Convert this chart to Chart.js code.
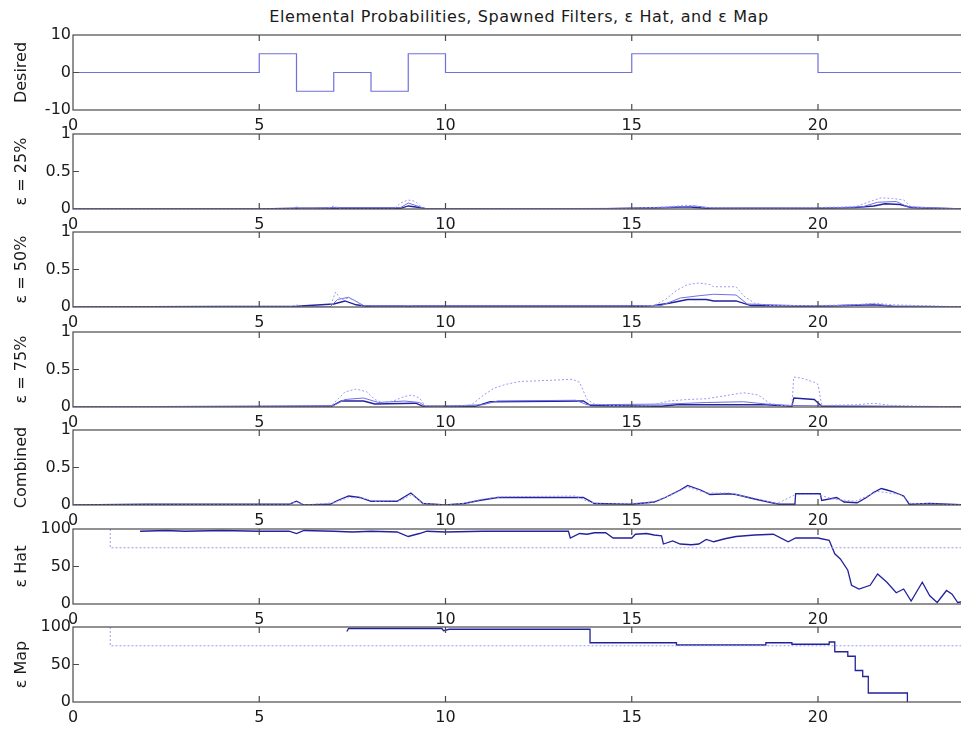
<!DOCTYPE html>
<html lang="en">
<head>
<meta charset="UTF-8">
<title>Elemental Probabilities, Spawned Filters, ε Hat, and ε Map</title>
<script src="https://cdn.jsdelivr.net/npm/chart.js"></script>
<style>
  body { margin: 0; background: #fff; overflow: hidden; font-family: "DejaVu Sans", sans-serif; }
  #wrap { position: relative; width: 961px; height: 731px; overflow: hidden; }
  #title { position: absolute; left: 0; width: 1038px; top: 7px; text-align: center; font-size: 16px; letter-spacing: 0.6px; color: #1a1a1a; }
  canvas { position: absolute; left: 0; }
</style>
</head>
<body>
<div id="wrap">
  <div id="title">Elemental Probabilities, Spawned Filters, ε Hat, and ε Map</div>
</div>

<script>
// ---- data: [time, value] pairs ----
const desired = [[0,0],[5,0],[5,5],[6,5],[6,-5],[7,-5],[7,0],[8,0],[8,-5],[9,-5],[9,5],[10,5],[10,0],[15,0],[15,5],[20,5],[20,0],[24,0]];

const p25Dotted = [[0,0],[5.8,0],[6,0.03],[6.2,0],[6.8,0],[7,0.04],[7.2,0],[8.6,0],[8.8,0.08],[9,0.12],[9.2,0.1],[9.4,0],[14.5,0],[15,0.01],[15.5,0.02],[16,0.03],[16.5,0.05],[17,0.02],[18,0.01],[19,0.01],[20,0.02],[21,0.03],[21.4,0.1],[21.7,0.15],[22,0.14],[22.3,0.12],[22.5,0.03],[23,0.01],[24,0]];
const p25Light  = [[0,0],[5.9,0],[6,0.02],[6.1,0],[7,0.02],[8.8,0.02],[9,0.08],[9.3,0.03],[9.5,0],[15.5,0.01],[16.3,0.03],[16.7,0.04],[17.2,0.01],[20,0.01],[21.2,0.03],[21.6,0.09],[22.1,0.1],[22.4,0.03],[24,0]];
const p25Solid  = [[0,0],[5,0],[6,0.01],[7,0.01],[8.8,0.01],[9,0.04],[9.3,0.02],[9.5,0],[14,0],[15,0.01],[16,0.02],[16.5,0.03],[17,0.01],[20,0.01],[21,0.02],[21.5,0.04],[21.8,0.07],[22.2,0.06],[22.5,0.02],[23,0.01],[24,0]];

const p50Dotted = [[0,0],[5.8,0],[6,0.03],[6.2,0],[6.9,0],[7.05,0.2],[7.2,0.1],[7.4,0.12],[7.6,0.08],[7.8,0],[8.8,0],[9,0.02],[9.3,0],[15,0],[15.6,0.02],[15.9,0.1],[16.2,0.22],[16.5,0.3],[16.8,0.32],[17.1,0.3],[17.2,0.27],[17.5,0.27],[17.8,0.27],[18,0.15],[18.3,0.05],[18.7,0.02],[20,0.02],[21,0.03],[21.5,0.05],[22,0.03],[24,0]];
const p50Light  = [[0,0],[6.9,0],[7.1,0.1],[7.4,0.13],[7.8,0.02],[15.8,0.02],[16.3,0.12],[16.8,0.15],[17.2,0.17],[17.8,0.16],[18.1,0.04],[20,0.01],[21.5,0.04],[22,0.01],[24,0]];
const p50Solid  = [[0,0],[6,0.01],[7,0.04],[7.3,0.08],[7.6,0.03],[8,0],[15,0],[15.6,0.02],[16,0.05],[16.5,0.1],[17,0.1],[17.2,0.08],[17.8,0.08],[18.2,0.02],[20,0.01],[21.5,0.03],[22,0.01],[24,0]];

const p75Dotted = [[0,0],[6.9,0],[7.1,0.1],[7.3,0.2],[7.6,0.24],[7.9,0.2],[8.1,0.1],[8.3,0.06],[8.6,0.08],[8.9,0.14],[9.1,0.16],[9.3,0.12],[9.45,0.02],[9.8,0],[10,0.02],[10.3,0.01],[10.7,0.03],[11,0.15],[11.3,0.25],[11.6,0.3],[12,0.34],[12.5,0.35],[13,0.36],[13.4,0.37],[13.6,0.33],[13.8,0.1],[14,0.04],[14.5,0.02],[15,0.01],[15.5,0.02],[16,0.08],[16.5,0.1],[17,0.11],[17.5,0.15],[18,0.19],[18.4,0.16],[18.7,0.05],[19,0.02],[19.3,0.02],[19.35,0.4],[19.6,0.38],[19.9,0.33],[20,0.3],[20.1,0.02],[21,0.03],[21.5,0.05],[22,0.02],[24,0]];
const p75Light  = [[0,0],[7,0.02],[7.3,0.1],[7.8,0.12],[8.2,0.06],[8.9,0.08],[9.3,0.06],[9.5,0],[11,0.03],[11.4,0.08],[13.5,0.09],[13.8,0.03],[16,0.04],[17,0.06],[18,0.07],[18.6,0.04],[19.3,0.02],[24,0]];
const p75Solid  = [[0,0],[6.9,0],[7.2,0.08],[7.8,0.08],[8.1,0.04],[9.2,0.05],[9.4,0.01],[10.8,0.01],[11.2,0.07],[13.7,0.08],[13.9,0.02],[15.8,0.01],[16.2,0.03],[18.6,0.03],[19.3,0.01],[19.35,0.12],[19.9,0.1],[20.1,0.01],[24,0]];

const combDotted = [[0,0],[5.8,0.01],[6,0.04],[6.2,0],[7,0.03],[7.4,0.1],[7.8,0.09],[8.1,0.05],[8.8,0.06],[9.1,0.14],[9.4,0.02],[10,0],[10.6,0.03],[11,0.08],[11.5,0.11],[13.5,0.12],[13.8,0.05],[14.2,0.01],[15.5,0.03],[16,0.12],[16.5,0.24],[17,0.16],[17.6,0.16],[18.2,0.1],[18.9,0.02],[19.4,0.14],[20,0.14],[20.4,0.08],[21,0.05],[21.6,0.18],[22.2,0.14],[22.5,0.02],[24,0]];
const combSolid  = [[0,0],[2,0.01],[5.8,0.01],[6,0.05],[6.2,0],[6.9,0.01],[7.1,0.06],[7.4,0.12],[7.7,0.1],[8,0.05],[8.7,0.05],[9.07,0.16],[9.4,0.02],[10,0],[10.5,0.02],[10.9,0.06],[11.4,0.1],[13.7,0.1],[14,0.02],[15,0.01],[15.6,0.04],[15.9,0.1],[16.1,0.15],[16.3,0.2],[16.5,0.26],[16.85,0.2],[17.1,0.14],[17.6,0.15],[17.8,0.14],[18.3,0.08],[18.95,0.01],[19.38,0.01],[19.4,0.15],[20.06,0.15],[20.1,0.06],[20.5,0.1],[20.7,0.04],[21.05,0.03],[21.3,0.1],[21.5,0.17],[21.7,0.22],[21.85,0.2],[22,0.18],[22.3,0.12],[22.45,0.01],[23,0.02],[23.5,0.01],[24,0]];

const hatTrue  = [[1,100],[1,75],[24,75]];
const hatEst   = [[1.8,97],[2.5,98],[3,97],[4,98],[5,97],[5.8,97],[6,94],[6.2,98],[7,97],[7.5,96],[8,97],[8.7,96],[9,90],[9.3,94],[9.5,97],[10,96],[11,97],[12,97],[13,97],[13.3,97],[13.35,88],[13.6,94],[13.8,93],[14,95],[14.3,95],[14.5,88],[15,88],[15.1,93],[15.4,94],[15.6,92],[15.8,91],[15.85,80],[16.1,84],[16.3,80],[16.6,79],[16.8,80],[17,86],[17.2,83],[17.5,87],[17.8,90],[18.3,92],[18.8,93],[19.2,83],[19.4,88],[20,88],[20.3,85],[20.45,67],[20.6,60],[20.8,45],[20.9,25],[21.1,20],[21.4,25],[21.6,40],[21.85,29],[22.1,15],[22.3,20],[22.5,4],[22.8,29],[23,11],[23.2,2],[23.45,18],[23.6,13],[23.75,2],[24,4]];

const mapTrue  = [[1,100],[1,75],[24,75]];
const mapEst   = [[7.35,94],[7.4,98],[9.9,98],[9.95,95],[10.1,97],[13.88,97],[13.88,79],[16.2,79],[16.2,76],[18.6,76],[18.6,79],[19.3,79],[19.3,77],[20.3,77],[20.3,80],[20.45,80],[20.45,67],[20.8,67],[20.8,61],[21,61],[21,42],[21.2,42],[21.2,34],[21.35,34],[21.35,12],[22.4,12],[22.4,0]];

// ---- panels ----
const panelTops = [35, 134, 232, 332, 430, 529, 627];
const PAD_TOP = 12, PLOT_H = 75, AXIS_H = 26, W = 967;

const DARK = '#22229c', LIGHT = '#6f6fe6', PALE = '#9a9af2';
const pts = d => d.map(p => ({ x: p[0], y: p[1] }));
const solid  = d => ({ data: pts(d), borderColor: DARK, borderWidth: 1.3 });
const light  = d => ({ data: pts(d), borderColor: LIGHT, borderWidth: 1 });
const dotted = d => ({ data: pts(d), borderColor: PALE, borderWidth: 1, borderDash: [2, 2] });

const panels = [
  { label: 'Desired',  min: -10, max: 10, step: 10, sets: [{ data: pts(desired), borderColor: '#7070dc', borderWidth: 1.2 }] },
  { label: 'ε = 25%',  min: 0, max: 1, step: 0.5, sets: [dotted(p25Dotted), light(p25Light), solid(p25Solid)] },
  { label: 'ε = 50%',  min: 0, max: 1, step: 0.5, sets: [dotted(p50Dotted), light(p50Light), solid(p50Solid)] },
  { label: 'ε = 75%',  min: 0, max: 1, step: 0.5, sets: [dotted(p75Dotted), light(p75Light), solid(p75Solid)] },
  { label: 'Combined', min: 0, max: 1, step: 0.5, sets: [dotted(combDotted), solid(combSolid)] },
  { label: 'ε Hat',    min: 0, max: 100, step: 50, sets: [dotted(hatTrue), solid(hatEst)] },
  { label: 'ε Map',    min: 0, max: 100, step: 50, sets: [dotted(mapTrue), solid(mapEst)] }
];

// MATLAB-like box with inward ticks
const boxTicks = {
  id: 'boxTicks',
  afterDatasetsDraw(chart) {
    const { ctx, chartArea: a, scales: { x, y } } = chart;
    ctx.save();
    ctx.strokeStyle = '#4a4a4a';
    ctx.lineWidth = 1.2;
    ctx.beginPath();
    x.ticks.forEach(t => {
      const px = x.getPixelForValue(t.value);
      if (px <= a.left + 1) return;
      ctx.moveTo(px, a.bottom); ctx.lineTo(px, a.bottom - 6);
      ctx.moveTo(px, a.top); ctx.lineTo(px, a.top + 6);
    });
    y.ticks.forEach(t => {
      const py = y.getPixelForValue(t.value);
      if (py <= a.top + 1 || py >= a.bottom - 1) return;
      ctx.moveTo(a.left, py); ctx.lineTo(a.left + 6, py);
      ctx.moveTo(a.right, py); ctx.lineTo(a.right - 6, py);
    });
    ctx.stroke();
    ctx.strokeRect(a.left, a.top, a.right - a.left, a.bottom - a.top);
    ctx.restore();
  }
};

const tickFont = { family: 'DejaVu Sans', size: 16 };
const wrap = document.getElementById('wrap');

panels.forEach((p, i) => {
  const cv = document.createElement('canvas');
  cv.width = W;
  cv.height = PAD_TOP + PLOT_H + AXIS_H;
  cv.style.top = (panelTops[i] - PAD_TOP) + 'px';
  wrap.appendChild(cv);

  new Chart(cv.getContext('2d'), {
    type: 'line',
    data: {
      datasets: p.sets.map(s => Object.assign({ pointRadius: 0, tension: 0, fill: false }, s))
    },
    options: {
      responsive: false,
      animation: false,
      events: [],
      layout: { padding: { top: PAD_TOP, right: 0, bottom: 0, left: 0 } },
      plugins: { legend: { display: false }, tooltip: { enabled: false } },
      scales: {
        x: {
          type: 'linear', min: 0, max: 24,
          grid: { display: false, drawTicks: false },
          border: { display: false },
          ticks: { stepSize: 5, includeBounds: false, padding: 6, font: tickFont, color: '#1a1a1a', maxRotation: 0, autoSkip: false },
          afterFit: s => { s.height = AXIS_H; }
        },
        y: {
          min: p.min, max: p.max,
          grid: { display: false, drawTicks: false },
          border: { display: false },
          ticks: { stepSize: p.step, padding: 2, font: tickFont, color: '#1a1a1a', callback: v => String(v) },
          title: { display: true, text: p.label, font: { family: 'DejaVu Sans', size: 16 }, color: '#1a1a1a', padding: { top: 12, bottom: 0 } },
          afterFit: s => { s.width = 73; }
        }
      }
    },
    plugins: [boxTicks]
  });
});
</script>
</body>
</html>
